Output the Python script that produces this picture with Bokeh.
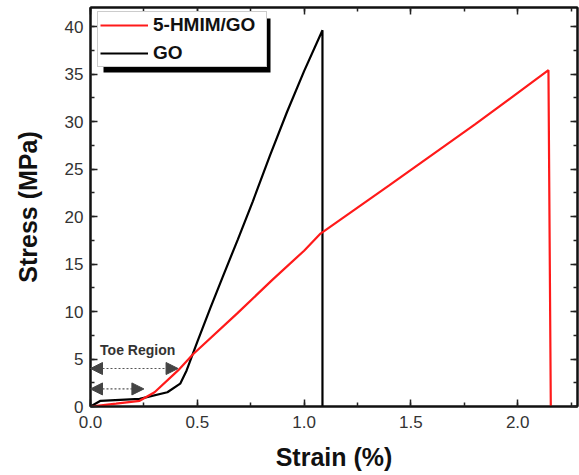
from bokeh.plotting import figure
from bokeh.models import (LinearAxis, Range1d, Legend, LegendItem, Arrow, NormalHead,
                          Label, BoxAnnotation, SingleIntervalTicker, ColumnDataSource,
                          NumeralTickFormatter)
from bokeh.embed import file_html
from bokeh.resources import INLINE

# ---- data ----
go_strain = [0.0, 0.047, 0.23, 0.36, 0.42, 0.45, 0.50, 0.56, 0.62, 0.69, 0.76, 0.84, 0.92, 1.00, 1.086, 1.086]
go_stress = [0.0, 0.6, 0.8, 1.5, 2.4, 3.8, 6.8, 10.3, 13.7, 17.6, 21.6, 26.4, 31.0, 35.3, 39.6, 0.0]

hm_strain = [0.0, 0.12, 0.23, 0.30, 0.41, 0.48, 0.687, 0.85, 1.0, 1.077, 1.40, 1.80, 2.144, 2.155]
hm_stress = [0.0, 0.3, 0.6, 1.5, 3.8, 5.5, 9.8, 13.3, 16.4, 18.2, 23.3, 29.7, 35.4, 0.0]

series_names = ["5-HMIM/GO", "GO"]
series_colors = ["#ff1a1a", "#000000"]

toe_y = [4.0, 1.85]
toe_x_end = [0.41, 0.25]
toe_label = "Toe Region"

X_MAX, Y_MAX = 2.28, 42.0

W, H = 579, 475
FL, FT, FR, FB = 90, 7, 2, 69
FW, FH = W - FL - FR, H - FT - FB

def dx(sx):
    return (sx - FL) / FW * X_MAX

def dy(sy):
    return (FT + FH - sy) / FH * Y_MAX

p = figure(width=W, height=H, output_backend="svg", toolbar_location=None,
           x_range=Range1d(0, X_MAX), y_range=Range1d(0, Y_MAX),
           min_border_left=FL, min_border_right=FR, min_border_top=FT, min_border_bottom=FB,
           background_fill_color="white", border_fill_color="white")
p.grid.visible = False
p.outline_line_color = "#111111"
p.outline_line_width = 2

FONT = "Liberation Sans"

def style_axis(ax, labels=True):
    ax.axis_line_color = "#111111"
    ax.axis_line_width = 2
    ax.major_tick_in = 7
    ax.major_tick_out = 0
    ax.minor_tick_in = 4
    ax.minor_tick_out = 0
    ax.major_tick_line_color = "#222222"
    ax.minor_tick_line_color = "#222222"
    ax.major_tick_line_width = 1.5
    ax.minor_tick_line_width = 1.5
    if labels:
        ax.major_label_text_font = FONT
        ax.major_label_text_font_size = "17px"
        ax.major_label_text_color = "#333333"
        ax.axis_label_text_font = FONT
        ax.axis_label_text_font_style = "bold"
        ax.axis_label_text_font_size = "25px"
        ax.axis_label_text_color = "#111111"
    else:
        ax.major_label_text_font_size = "1px"
        ax.major_label_text_color = None
        ax.major_label_standoff = 0
        ax.axis_label = None

xt = SingleIntervalTicker(interval=0.5, num_minor_ticks=2)
yt = SingleIntervalTicker(interval=5, num_minor_ticks=2)

p.xaxis.ticker = xt
p.yaxis.ticker = yt
p.xaxis.formatter = NumeralTickFormatter(format="0.0")
p.xaxis.axis_label = "Strain (%)"
p.yaxis.axis_label = "Stress (MPa)"
style_axis(p.xaxis[0])
style_axis(p.yaxis[0])
p.xaxis.major_label_standoff = 9
p.yaxis.major_label_standoff = 7
p.xaxis.axis_label_standoff = 12
p.yaxis.axis_label_standoff = 20

top_ax = LinearAxis(ticker=SingleIntervalTicker(interval=0.5, num_minor_ticks=2))
right_ax = LinearAxis(ticker=SingleIntervalTicker(interval=5, num_minor_ticks=2))
style_axis(top_ax, labels=False)
style_axis(right_ax, labels=False)
p.add_layout(top_ax, "above")
p.add_layout(right_ax, "right")

# data lines
r_go = p.line(go_strain, go_stress, line_color=series_colors[1], line_width=2.2)
r_hm = p.line(hm_strain, hm_stress, line_color=series_colors[0], line_width=2.2)

# toe region arrows
src = ColumnDataSource(dict(xs=[0.0] * len(toe_y), ys=toe_y, xe=toe_x_end, ye=toe_y))
head = dict(size=12, fill_color="#444444", line_color="#444444", line_width=1)
arrows = Arrow(start=NormalHead(**head), end=NormalHead(**head),
               x_start="xs", y_start="ys", x_end="xe", y_end="ye", source=src,
               line_color="#555555", line_width=1.2, line_dash="2 2")
p.add_layout(arrows)
p.add_layout(Label(x=0.045, y=5.9, text=toe_label, text_font=FONT, text_font_style="bold",
                   text_font_size="14px", text_color="#333333", text_baseline="middle"))

# legend shadow
LEG_L, LEG_T, LEG_W, LEG_H = 97, 13, 168, 54
shadow = BoxAnnotation(left=dx(LEG_L + 6), right=dx(LEG_L + LEG_W + 5),
                       top=dy(LEG_T + 5), bottom=dy(LEG_T + LEG_H + 5),
                       fill_color="black", fill_alpha=1.0, line_color="black", line_width=0)
p.add_layout(shadow)

legend = Legend(items=[LegendItem(label=series_names[0], renderers=[r_hm]),
                       LegendItem(label=series_names[1], renderers=[r_go])],
                location=(LEG_L - FL, FH - (LEG_T - FT) - LEG_H),
                padding=2, spacing=6, label_height=22, glyph_height=22, glyph_width=48,
                label_standoff=5, label_width=111, margin=0,
                label_text_font=FONT, label_text_font_style="bold", label_text_font_size="19px",
                label_text_color="#111111", label_text_baseline="middle",
                border_line_color="#999999", border_line_width=1,
                background_fill_color="white", background_fill_alpha=1.0)
p.add_layout(legend)

open("out.html", "w").write(file_html(p, INLINE))
